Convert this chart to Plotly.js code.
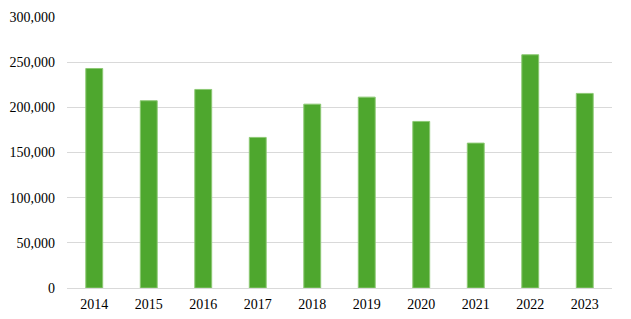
<!DOCTYPE html>
<html>
<head>
<meta charset="utf-8">
<script src="https://cdn.plot.ly/plotly-3.0.1.min.js"></script>
<style>html,body{margin:0;padding:0;background:#fff;}#chart{width:631px;height:319px;}</style>
</head>
<body>
<div id="chart"></div>
<script>
const years = ["2014","2015","2016","2017","2018","2019","2020","2021","2022","2023"];
const values = [243000, 207300, 219800, 166700, 203500, 211300, 184400, 160400, 258200, 215400];
const yTicks = [0, 50000, 100000, 150000, 200000, 250000, 300000];
const yTickLabels = ["0", "50,000", "100,000", "150,000", "200,000", "250,000", "300,000"];

Plotly.newPlot("chart", [{
  type: "bar",
  x: years,
  y: values,
  marker: {color: "#4EA72E", line: {color: "#8CC873", width: 1}},
  hoverinfo: "x+y"
}], {
  width: 631, height: 319,
  margin: {l: 67, r: 19, t: 17, b: 31},
  paper_bgcolor: "#fff", plot_bgcolor: "#fff",
  bargap: 0.69,
  showlegend: false,
  font: {family: "Liberation Serif", size: 14, color: "#000"},
  xaxis: {type: "category", showgrid: false, showline: false, ticks: "", zeroline: false, ticklabelstandoff: 6},
  yaxis: {range: [0, 300000], tickvals: yTicks, ticktext: yTickLabels,
          showgrid: true, gridcolor: "#d9d9d9", gridwidth: 1, zeroline: true, zerolinecolor: "#d9d9d9",
          zerolinewidth: 1, showline: false, ticks: "", ticklabelstandoff: 11}
}, {staticPlot: true});
</script>
</body>
</html>
